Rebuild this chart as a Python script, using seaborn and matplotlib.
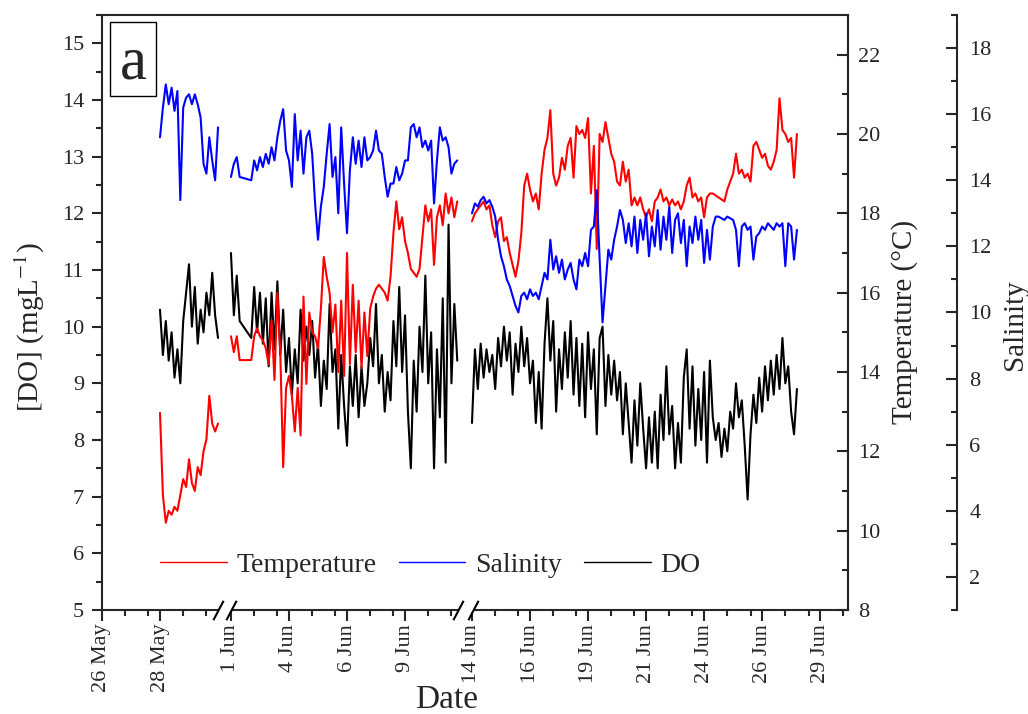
import matplotlib
matplotlib.use("Agg")
import matplotlib.pyplot as plt
from matplotlib.lines import Line2D
from matplotlib.patches import Rectangle
import numpy as np
import pandas as pd
import seaborn as sns

nan = np.nan

# three logger deployments, one reading every 3 h
seg_start = ["2019-05-28 12:00", "2019-06-01 00:00", "2019-06-14 00:00"]

# deployment A (28-31 May)
do_a = [10.3, 9.5, 10.1, 9.4, 9.9, 9.1, 9.6, 9.0, 10.1, 10.6,
        11.1, 10.0, 10.7, 9.7, 10.3, 9.9, 10.6, 10.2, 10.95, 10.2,
        9.8]
temp_a = [12.97, 10.9, 10.2, 10.5, 10.4, 10.6, 10.5, 10.9, 11.3, 11.1,
          11.8, 11.2, 11.0, 11.6, 11.4, 12.0, 12.3, 13.4, 12.7, 12.5,
          12.7]
sal_a = [15.3, 16.2, 16.9, 16.3, 16.8, 16.1, 16.7, 13.4, 16.2, 16.5,
         16.6, 16.3, 16.6, 16.3, 15.9, 14.5, 14.2, 15.3, 14.6, 14.0,
         15.6]

# deployment B (1-10 Jun)
do_b = [11.3, 10.2, 10.9, 10.1, nan, nan, nan, 9.8, 10.7, 9.9,
        10.6, 9.7, 10.5, 9.3, 10.6, 9.6, 10.8, 9.5, 10.3, 9.2,
        9.8, 8.8, 9.6, 9.0, 10.3, 9.4, 10.0, 9.5, 10.1, 9.1,
        9.7, 8.6, 9.4, 8.9, 10.4, 9.2, 9.6, 8.2, 9.5, 8.6,
        7.9, 9.3, 8.6, 9.5, 8.4, 9.3, 8.6, 9.0, 9.8, 9.3,
        10.4, 9.0, 9.5, 8.5, 9.2, 8.7, 10.1, 9.3, 10.7, 9.2,
        10.2, 8.5, 7.5, 9.4, 8.5, 10.0, 9.2, 10.9, 9.0, 9.9,
        7.5, 9.6, 8.4, 10.5, 7.6, 11.8, 9.0, 10.4, 9.4]
temp_b = [14.9, 14.5, 14.9, 14.3, nan, nan, nan, 14.3, 14.9, 15.1,
          14.9, 14.8, 14.6, 14.2, 15.3, 13.8, 16.0, 14.5, 11.6, 13.6,
          13.9, 13.4, 12.5, 13.6, 12.4, 15.9, 13.7, 15.5, 15.0, 14.9,
          14.6, 15.6, 16.9, 16.4, 16.0, 15.0, 15.7, 14.0, 15.8, 13.9,
          17.0, 14.2, 16.2, 14.5, 15.8, 14.1, 15.5, 14.4, 15.6, 15.9,
          16.1, 16.2, 16.1, 16.0, 15.8, 16.4, 17.5, 18.3, 17.6, 17.9,
          17.3, 17.0, 16.6, 16.5, 16.4, 16.6, 17.4, 18.2, 17.8, 18.1,
          16.7, 17.9, 18.2, 17.7, 18.5, 18.0, 18.4, 17.9, 18.3]
sal_b = [14.1, 14.5, 14.7, 14.1, nan, nan, nan, 14.0, 14.6, 14.3,
         14.7, 14.4, 14.8, 14.5, 15.0, 14.6, 15.3, 15.8, 16.15, 14.9,
         14.6, 13.8, 16.0, 14.6, 15.5, 14.2, 15.3, 15.5, 14.8, 13.3,
         12.2, 13.2, 13.8, 14.8, 15.7, 14.1, 14.7, 13.0, 15.6, 13.9,
         12.4, 14.3, 15.3, 14.5, 15.2, 14.4, 15.3, 14.6, 14.7, 14.9,
         15.5, 14.9, 14.8, 14.1, 13.5, 13.9, 13.9, 14.4, 14.0, 14.2,
         14.6, 14.6, 15.6, 15.7, 15.3, 15.6, 15.0, 15.2, 14.9, 15.2,
         13.3, 14.6, 15.6, 15.2, 15.3, 15.0, 14.2, 14.5, 14.6]

# deployment C (14-28 Jun)
do_c = [8.3, 9.6, 8.9, 9.7, 9.1, 9.6, 9.2, 9.5, 8.9, 9.8,
        9.3, 10.0, 9.4, 9.9, 8.8, 9.7, 9.2, 10.0, 9.3, 9.8,
        9.0, 9.4, 8.3, 9.2, 8.2, 9.7, 10.5, 9.4, 10.1, 8.5,
        9.6, 8.9, 9.9, 9.1, 10.1, 8.8, 9.8, 8.6, 9.7, 8.4,
        9.9, 8.9, 9.6, 8.1, 9.8, 10.0, 8.6, 9.5, 8.8, 9.4,
        8.7, 9.2, 8.1, 9.0, 8.3, 7.6, 8.7, 7.9, 9.0, 8.2,
        7.5, 8.4, 7.6, 8.5, 7.5, 8.8, 8.0, 9.3, 8.1, 8.6,
        7.5, 8.3, 7.6, 9.1, 9.6, 8.2, 9.3, 7.9, 8.9, 8.0,
        9.2, 7.6, 9.4, 8.4, 8.0, 8.3, 7.7, 8.2, 7.8, 8.5,
        8.2, 9.0, 8.4, 8.7, 7.9, 6.95, 8.1, 8.8, 8.3, 9.1,
        8.5, 9.3, 8.7, 9.4, 8.8, 9.5, 8.9, 9.8, 9.0, 9.3,
        8.5, 8.1, 8.9]
temp_c = [17.8, 18.0, 18.1, 18.2, 18.3, 18.1, 18.2, 17.7, 17.4, 17.8,
          17.9, 17.3, 17.4, 17.0, 16.7, 16.4, 16.8, 17.5, 18.7, 19.0,
          18.6, 18.3, 18.5, 18.1, 19.0, 19.6, 19.9, 20.6, 19.0, 18.7,
          18.9, 19.4, 19.1, 19.7, 19.9, 18.9, 20.2, 20.0, 20.1, 19.9,
          20.4, 18.5, 19.7, 17.1, 20.0, 19.8, 20.3, 19.9, 19.5, 19.3,
          18.8, 18.7, 19.3, 18.8, 19.1, 18.2, 18.4, 18.2, 18.4, 18.1,
          17.9, 18.1, 17.8, 18.3, 18.4, 18.6, 18.3, 18.4, 18.2, 18.35,
          18.2, 18.3, 18.1, 18.3, 18.7, 18.9, 18.4, 18.5, 18.3, 18.4,
          17.9, 18.4, 18.5, 18.5, 18.45, 18.4, 18.35, 18.3, 18.6, 18.8,
          19.0, 19.5, 19.0, 19.1, 18.9, 19.0, 18.8, 19.7, 19.8, 19.6,
          19.4, 19.5, 19.2, 19.1, 19.3, 19.6, 20.9, 20.1, 20.0, 19.8,
          19.9, 18.9, 20.0]
sal_c = [13.0, 13.3, 13.2, 13.4, 13.5, 13.3, 13.4, 13.2, 12.9, 12.2,
         11.7, 11.4, 11.0, 10.8, 10.5, 10.2, 10.0, 10.5, 10.6, 10.4,
         10.7, 10.5, 10.6, 10.4, 10.8, 11.2, 11.0, 12.2, 11.3, 11.7,
         11.2, 11.6, 11.0, 11.3, 11.5, 11.0, 10.7, 11.6, 11.4, 11.8,
         11.4, 12.5, 12.6, 13.7, 11.6, 9.7, 10.8, 11.9, 11.6, 12.2,
         12.6, 13.1, 12.8, 12.1, 12.7, 12.0, 12.9, 11.8, 12.8, 12.2,
         13.0, 11.7, 12.6, 12.0, 13.1, 11.9, 12.9, 12.2, 13.2, 11.8,
         12.8, 13.0, 12.1, 12.8, 11.4, 12.6, 12.1, 12.9, 12.2, 12.8,
         11.5, 12.5, 11.6, 12.6, 12.9, 12.9, 12.85, 12.8, 12.9, 12.85,
         12.8, 12.5, 11.4, 12.6, 12.7, 12.5, 12.6, 11.6, 12.3, 12.4,
         12.6, 12.5, 12.7, 12.6, 12.5, 12.7, 12.6, 12.7, 11.4, 12.7,
         12.6, 11.6, 12.5]

tick_dates = ["2019-05-26 00:00", "2019-05-28 12:00", "2019-06-01 00:00",
              "2019-06-03 12:00", "2019-06-06 00:00", "2019-06-08 12:00",
              "2019-06-14 00:00", "2019-06-16 12:00", "2019-06-19 00:00",
              "2019-06-21 12:00", "2019-06-24 00:00", "2019-06-26 12:00",
              "2019-06-29 00:00"]
tick_labels = ["26 May", "28 May", "1 Jun", "4 Jun", "6 Jun", "9 Jun",
               "14 Jun", "16 Jun", "19 Jun", "21 Jun", "24 Jun", "26 Jun",
               "29 Jun"]

origin = pd.Timestamp("2019-05-26")


def to_day(s):
    return np.asarray((pd.to_datetime(s) - origin) / pd.Timedelta(days=1), dtype=float)


frames = []
for i, (start, do, temp, sal) in enumerate(zip(seg_start, [do_a, do_b, do_c],
                                                 [temp_a, temp_b, temp_c],
                                                 [sal_a, sal_b, sal_c])):
    t = pd.date_range(start, periods=len(do), freq="3h")
    frames.append(pd.DataFrame({"time": t, "seg": i, "DO": do, "Temp": temp, "Sal": sal}))
df = pd.concat(frames, ignore_index=True).dropna()
df["day"] = to_day(df["time"])

# broken time axis: the periods between deployments are squeezed out
cut1 = to_day(["2019-05-31 07:12", "2019-05-31 17:50"])
cut2 = to_day(["2019-06-11 02:00", "2019-06-13 16:45"])
c1, l1 = cut1[0], cut1[1] - cut1[0]
c2, l2 = cut2[0], cut2[1] - cut2[0]


def fwd(d):
    d = np.asarray(d, dtype=float)
    return d - np.clip(d - c1, 0, l1) - np.clip(d - c2, 0, l2)


def inv(c):
    c = np.asarray(c, dtype=float)
    return c + l1 * (c > c1) + l2 * (c > c2 - l1)


sns.set_style("ticks")
plt.rcParams["font.family"] = ["Liberation Serif", "DejaVu Serif"]
plt.rcParams["mathtext.fontset"] = "stix"

fig, ax = plt.subplots(figsize=(10.28, 7.14), dpi=100)
fig.subplots_adjust(left=0.0992, right=0.8249, bottom=0.1457, top=0.979)
ax_t = ax.twinx()
ax_s = ax.twinx()

sns.lineplot(data=df, x="day", y="DO", units="seg", estimator=None,
             color="black", lw=1.5, ax=ax)
sns.lineplot(data=df, x="day", y="Temp", units="seg", estimator=None,
             color="red", lw=1.5, ax=ax_t)
sns.lineplot(data=df, x="day", y="Sal", units="seg", estimator=None,
             color="blue", lw=1.5, ax=ax_s)

ax.set_xscale("function", functions=(fwd, inv))
ax.set_xlim(0, to_day("2019-06-30 04:48"))
ax.set_ylim(5, 15.5)
ax_t.set_ylim(8, 23)
ax_s.set_ylim(1, 19)

major = to_day(tick_dates)
minor = [m + k for m in major for k in (1, 2) if m + k < ax.get_xlim()[1]]
ax.set_xticks(major, tick_labels)
ax.set_xticks(minor, minor=True)
ax.set_yticks(np.arange(5, 16, 1))
ax.set_yticks(np.arange(5.5, 15.6, 1), minor=True)
ax_t.set_yticks(np.arange(8, 23, 2))
ax_t.set_yticks(np.arange(9, 23, 2), minor=True)
ax_s.set_yticks(np.arange(2, 19, 2))
ax_s.set_yticks(np.arange(1, 20, 2), minor=True)

lw = 1.5
for sp in ax.spines.values():
    sp.set_linewidth(lw)
for a in (ax_t, ax_s):
    for name, sp in a.spines.items():
        sp.set_visible(name == "right")
        sp.set_linewidth(lw)
    a.xaxis.set_visible(False)
ax_s.spines["right"].set_position(("axes", 1.146))

ax.tick_params(axis="y", which="major", direction="out", length=7, width=lw,
               labelsize=16, pad=6)
ax.tick_params(axis="y", which="minor", direction="out", length=4, width=lw)
ax.tick_params(axis="x", which="major", direction="out", length=8, width=lw,
               labelsize=16, labelrotation=90, pad=2)
ax.tick_params(axis="x", which="minor", direction="out", length=4, width=lw)
for a, p in ((ax_t, 7), (ax_s, 9)):
    a.tick_params(axis="y", which="major", direction="in", length=8, width=lw,
                  labelsize=16, pad=p)
    a.tick_params(axis="y", which="minor", direction="in", length=4, width=lw)

ax.set_xlabel("Date", fontsize=24)
ax.set_ylabel("[DO] (mgL$^{-1}$)", fontsize=21)
ax_t.set_ylabel("Temperature (\u00b0C)", fontsize=21)
ax_s.set_ylabel("Salinity", fontsize=21)
ax.xaxis.set_label_coords(0.462, -0.151)
ax.yaxis.set_label_coords(-0.0965, 0.476)
ax_t.yaxis.set_label_coords(1.076, 0.484)
ax_s.yaxis.set_label_coords(1.224, 0.479)
for lab in (ax.xaxis.label, ax.yaxis.label, ax_t.yaxis.label, ax_s.yaxis.label):
    lab.set_va("center")
    lab.set_ha("center")
ax_t.yaxis.label.set_rotation(90)
ax_s.yaxis.label.set_rotation(90)

# break marks on the time axis
xform = ax.get_xaxis_transform()
for pair in (["2019-05-31 00:00", "2019-06-01 00:00"],
             ["2019-06-10 19:00", "2019-06-14 01:00"]):
    bx = to_day(pair)
    ax.plot(bx, [0, 0], transform=xform, color="white", lw=3,
            solid_capstyle="butt", clip_on=False, zorder=5)
    ax.plot(bx, [0, 0], transform=xform, ls="none", color="black",
            marker=[(-0.525, -1), (0.525, 1)], markersize=14, mew=1.5,
            clip_on=False, zorder=6)

handles = [Line2D([], [], color="red", lw=1),
           Line2D([], [], color="blue", lw=1),
           Line2D([], [], color="black", lw=1)]
ax_s.legend(handles, ["Temperature", "Salinity", "DO"], loc="center",
            bbox_to_anchor=(0.44, 0.075), ncol=3, frameon=False, fontsize=20,
            handlelength=2.4, handletextpad=0.35, columnspacing=0.8)

ax_s.add_patch(Rectangle((0.0107, 0.864), 0.0617, 0.124, transform=ax_s.transAxes,
                         facecolor="white", edgecolor="black", lw=1.0, zorder=10))
ax_s.text(0.0416, 0.894, "a", transform=ax_s.transAxes, fontsize=44,
          ha="center", va="baseline", zorder=11)

plt.savefig("out.png", dpi=100)
